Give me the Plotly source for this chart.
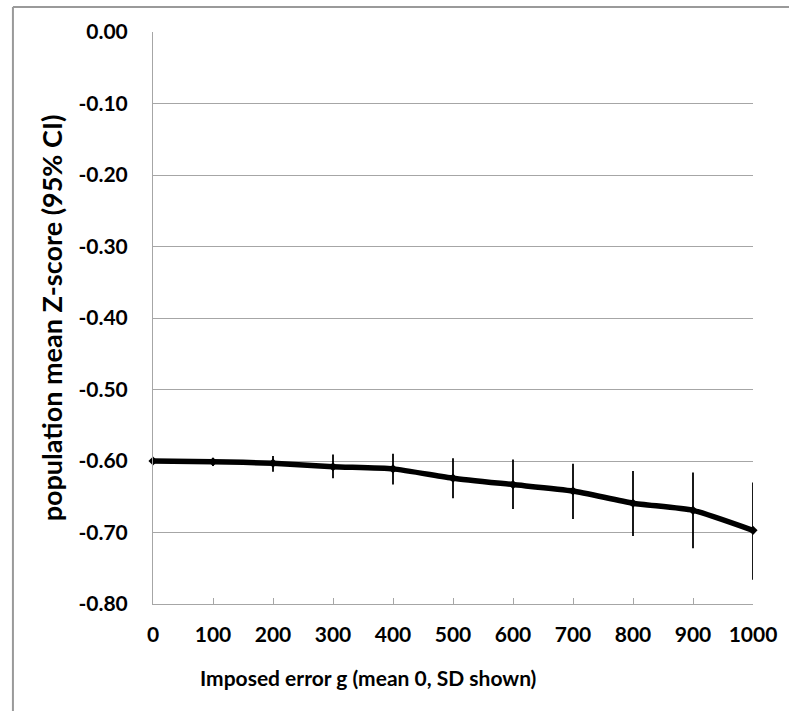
import plotly.graph_objects as go

# Data
sd_values = [0, 100, 200, 300, 400, 500, 600, 700, 800, 900, 1000]
mean_z = [-0.600, -0.601, -0.603, -0.608, -0.611, -0.624, -0.633, -0.642, -0.659, -0.669, -0.697]
ci_upper = [-0.600, -0.596, -0.593, -0.591, -0.590, -0.596, -0.598, -0.604, -0.614, -0.616, -0.630]
ci_lower = [-0.600, -0.607, -0.615, -0.624, -0.633, -0.652, -0.667, -0.681, -0.705, -0.722, -0.766]

x_tick_vals = [0, 100, 200, 300, 400, 500, 600, 700, 800, 900, 1000]
x_tick_text = ["0", "100", "200", "300", "400", "500", "600", "700", "800", "900", "1000"]
y_tick_vals = [0.0, -0.1, -0.2, -0.3, -0.4, -0.5, -0.6, -0.7, -0.8]
y_tick_text = ["0.00", "-0.10", "-0.20", "-0.30", "-0.40", "-0.50", "-0.60", "-0.70", "-0.80"]
x_title = "Imposed error g (mean 0, SD shown)"
y_title = "population mean Z-score (95% CI)"

err_plus = [u - m for u, m in zip(ci_upper, mean_z)]
err_minus = [m - l for m, l in zip(mean_z, ci_lower)]

FONT = "Lato"
GRID = "#a6a6a6"
FRAME = "#9a9a9a"

fig = go.Figure()
fig.add_trace(go.Scatter(
    x=sd_values, y=mean_z,
    mode="lines+markers",
    line=dict(color="black", width=5.5, shape="spline", smoothing=0.5),
    marker=dict(symbol="diamond", size=7, color="black"),
    error_y=dict(type="data", symmetric=False, array=err_plus, arrayminus=err_minus,
                 color="black", thickness=1.8, width=0),
    cliponaxis=False,
    showlegend=False,
))

W, H = 789, 711
L, R, T = 153, 32, 32
ph = 572
B = H - T - ph
pw = W - L - R


def px_x(p):
    return (p - L) / pw


def px_y(p):
    return (H - B - p) / ph


fig.update_layout(
    width=W, height=H,
    margin=dict(l=L, r=R, t=T, b=B, pad=0),
    paper_bgcolor="white", plot_bgcolor="white",
    font=dict(family=FONT, color="black"),
    xaxis=dict(
        range=[0, 1000], tickvals=x_tick_vals, ticktext=x_tick_text,
        showgrid=False, zeroline=False,
        showline=True, linecolor=GRID, linewidth=1,
        ticks="inside", ticklen=6, tickcolor=GRID, tickwidth=1,
        tickfont=dict(family=FONT, size=21, color="black", weight="bold"),
        ticklabelstandoff=12,
    ),
    yaxis=dict(
        range=[-0.8, 0.0], tickvals=y_tick_vals, ticktext=y_tick_text,
        showgrid=True, gridcolor=GRID, gridwidth=1, zeroline=False,
        showline=True, linecolor=GRID, linewidth=1,
        ticks="",
        tickfont=dict(family=FONT, size=21, color="black", weight="bold"),
        ticklabelstandoff=20,
        title=dict(text=y_title,
                   font=dict(family=FONT, size=27, color="black", weight="bold"),
                   standoff=7),
    ),
    annotations=[dict(
        text=x_title, xref="paper", yref="paper",
        x=px_x(369), y=px_y(677), xanchor="center", yanchor="middle",
        showarrow=False,
        font=dict(family=FONT, size=21, color="black", weight="bold"),
    )],
    shapes=[
        dict(type="line", xref="paper", yref="paper",
             x0=px_x(12), x1=px_x(12), y0=px_y(7), y1=px_y(H + 20),
             line=dict(color=FRAME, width=2), layer="below"),
        dict(type="line", xref="paper", yref="paper",
             x0=px_x(12), x1=px_x(W + 20), y0=px_y(7), y1=px_y(7),
             line=dict(color=FRAME, width=2), layer="below"),
    ],
)

fig.write_html(
    "out.html", config={"displayModeBar": False},
    post_script=("document.body.style.margin='0';document.body.style.overflow='hidden';"
                 "document.documentElement.style.overflow='hidden';"
                 "document.documentElement.style.scrollbarWidth='none';"))
